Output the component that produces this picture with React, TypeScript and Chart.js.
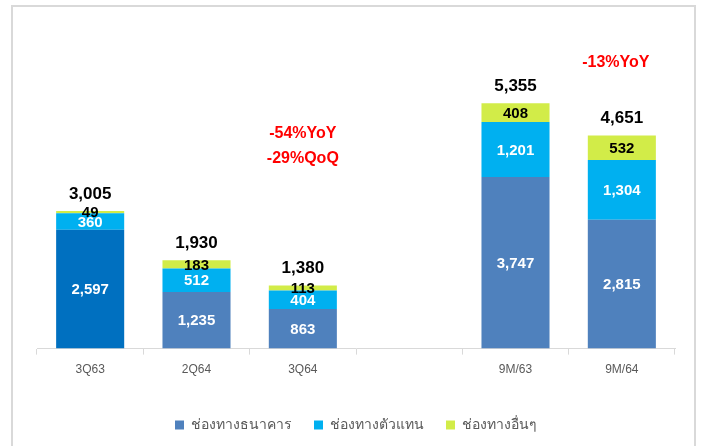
import React, { useEffect, useRef } from "react";
import { Chart, registerables } from "chart.js";

Chart.register(...registerables);

const categories = ["3Q63", "2Q64", "3Q64", "", "9M/63", "9M/64"];
const bankValues = [2597, 1235, 863, null, 3747, 2815];
const agentValues = [360, 512, 404, null, 1201, 1304];
const otherValues = [49, 183, 113, null, 408, 532];
const totalValues = [3005, 1930, 1380, null, 5355, 4651];
const seriesNames = ["ช่องทางธนาคาร", "ช่องทางตัวแทน", "ช่องทางอื่นๆ"];
const annotationTexts = ["-54%YoY", "-29%QoQ", "-13%YoY"];
const annotationCats = [2, 2, 5];
const annotationValues = [4695, 4155, 6255];

const bankColors = ["#0070C0", "#4F81BD", "#4F81BD", "#4F81BD", "#4F81BD", "#4F81BD"];
const agentColor = "#00B0F0";
const otherColor = "#D2EC48";
const labelFont = '"Liberation Sans", Arial, sans-serif';

const fmt = (v: number) => v.toLocaleString("en-US");

const overlayPlugin = {
  id: "overlay",
  beforeDraw(chart: any) {
    const ctx = chart.ctx;
    ctx.save();
    ctx.strokeStyle = "#D9D9D9";
    ctx.lineWidth = 2;
    ctx.strokeRect(12, 6, 683, 460);
    ctx.restore();
  },
  afterDatasetsDraw(chart: any) {
    const ctx = chart.ctx;
    const xs = chart.scales.x;
    const ys = chart.scales.y;
    ctx.save();
    ctx.textAlign = "center";
    ctx.textBaseline = "middle";
    const colors = ["#FFFFFF", "#FFFFFF", "#000000"];
    chart.data.datasets.forEach((ds: any, di: number) => {
      const meta = chart.getDatasetMeta(di);
      meta.data.forEach((el: any, i: number) => {
        const v = ds.data[i];
        if (v == null) return;
        const cy = (el.y + el.base) / 2;
        ctx.font = `bold 15px ${labelFont}`;
        ctx.fillStyle = colors[di];
        ctx.fillText(fmt(v), el.x, cy + 1);
      });
    });
    const topMeta = chart.getDatasetMeta(2);
    totalValues.forEach((t, i) => {
      if (t == null) return;
      const el = topMeta.data[i];
      ctx.font = `bold 17px ${labelFont}`;
      ctx.fillStyle = "#000000";
      ctx.fillText(fmt(t), el.x, el.y - 17);
    });
    annotationTexts.forEach((txt, i) => {
      ctx.font = `bold 16px ${labelFont}`;
      ctx.fillStyle = "#FF0000";
      const x = xs.getPixelForValue(annotationCats[i]) - (i === 2 ? 6 : 0);
      ctx.fillText(txt, x, ys.getPixelForValue(annotationValues[i]));
    });
    ctx.restore();
  },
};

export default function App() {
  const ref = useRef<HTMLCanvasElement | null>(null);
  useEffect(() => {
    if (!ref.current) return;
    const chart = new Chart(ref.current, {
      type: "bar",
      data: {
        labels: categories,
        datasets: [
          { label: seriesNames[0], data: bankValues, backgroundColor: bankColors, barPercentage: 0.64, categoryPercentage: 1 },
          { label: seriesNames[1], data: agentValues, backgroundColor: agentColor, barPercentage: 0.64, categoryPercentage: 1 },
          { label: seriesNames[2], data: otherValues, backgroundColor: otherColor, barPercentage: 0.64, categoryPercentage: 1 },
        ],
      },
      options: {
        responsive: false,
        animation: false,
        layout: { padding: { left: 37, right: 26, top: 28, bottom: 4 } },
        scales: {
          x: {
            stacked: true,
            grid: { display: true, drawOnChartArea: false, drawTicks: true, tickLength: 6, color: "#D9D9D9", offset: true },
            border: { color: "#D9D9D9", width: 1 },
            ticks: { color: "#595959", font: { size: 12, family: labelFont }, padding: 8 },
            afterFit: (s: any) => { s.height += 11; },
          },
          y: { stacked: true, display: false, min: 0, max: 7000 },
        },
        plugins: {
          tooltip: { enabled: false },
          legend: {
            position: "bottom",
            labels: {
              color: "#595959",
              boxWidth: 9,
              boxHeight: 9,
              padding: 22,
              font: { size: 14, family: '"Noto Sans", sans-serif' },
              generateLabels: (c: any) => {
                const items = Chart.defaults.plugins.legend.labels.generateLabels(c);
                items[0].fillStyle = "#4F81BD";
                items.forEach((it: any) => { it.lineWidth = 0; it.strokeStyle = "transparent"; });
                return items;
              },
            },
          },
        },
      },
      plugins: [overlayPlugin],
    });
    return () => chart.destroy();
  }, []);
  return (
    <div style={{ position: "absolute", left: 0, top: 0, width: 701, height: 446 }}>
      <canvas ref={ref} width={701} height={446} />
    </div>
  );
}
